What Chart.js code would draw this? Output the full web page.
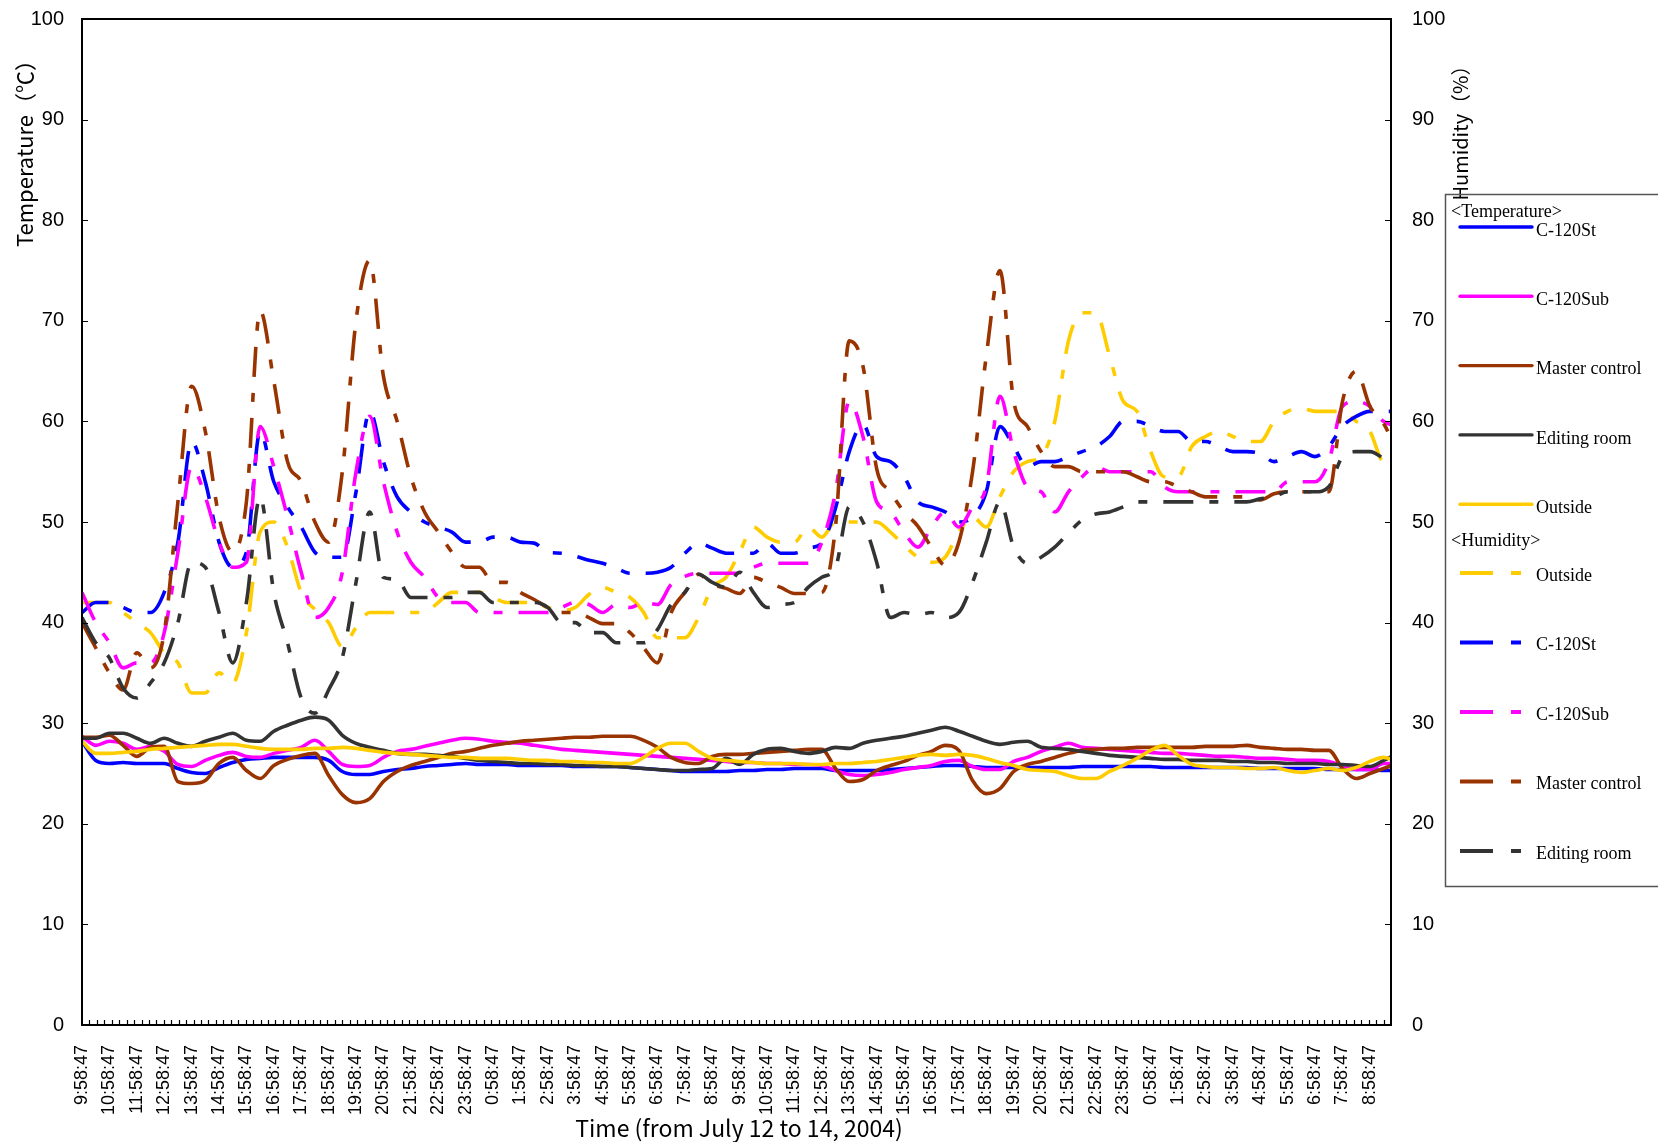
<!DOCTYPE html>
<html lang="en">
<head>
<meta charset="UTF-8">
<title>Temperature and humidity, July 12-14 2004</title>
<style>
  html, body { margin: 0; padding: 0; background: #fff; }
  #wrap { width: 1658px; height: 1142px; }
</style>
</head>
<body>
<div id="wrap"><canvas id="chart" width="1658" height="1142"></canvas></div>
<script src="https://cdn.jsdelivr.net/npm/chart.js"></script>
<script>
// readings every 30 min starting 9:58:47 on July 12 (x = hours since start)
const stepHours = 0.5;
const xMax = 47.77;       // axis ends a bit after 8:58:47 on July 14
const minorTicks = 176;   // small tick marks along the time axis

const hourLabels = [
  '9:58:47', '10:58:47', '11:58:47', '12:58:47', '13:58:47', '14:58:47', '15:58:47', '16:58:47',
  '17:58:47', '18:58:47', '19:58:47', '20:58:47', '21:58:47', '22:58:47', '23:58:47',
  '0:58:47', '1:58:47', '2:58:47', '3:58:47', '4:58:47', '5:58:47', '6:58:47', '7:58:47', '8:58:47',
  '9:58:47', '10:58:47', '11:58:47', '12:58:47', '13:58:47', '14:58:47', '15:58:47', '16:58:47',
  '17:58:47', '18:58:47', '19:58:47', '20:58:47', '21:58:47', '22:58:47', '23:58:47',
  '0:58:47', '1:58:47', '2:58:47', '3:58:47', '4:58:47', '5:58:47', '6:58:47', '7:58:47', '8:58:47'
];

// temperature (°C)
const tempStd = [
  28.2, 26.3, 26.0, 26.1, 26.0, 26.0, 26.0, 25.5, 25.1, 25.0, 25.6, 26.1, 26.4, 26.5, 26.6, 26.6,
  26.6, 26.6, 26.3, 25.2, 24.9, 24.9, 25.2, 25.4, 25.5, 25.7, 25.8, 25.9, 26.0, 25.9, 25.9, 25.9,
  25.8, 25.8, 25.8, 25.8, 25.7, 25.7, 25.7, 25.7, 25.6, 25.5, 25.4, 25.3, 25.2, 25.2, 25.2, 25.2,
  25.3, 25.3, 25.4, 25.4, 25.5, 25.5, 25.5, 25.3, 25.3, 25.3, 25.3, 25.4, 25.5, 25.6, 25.7, 25.8,
  25.8, 25.7, 25.6, 25.6, 25.6, 25.6, 25.6, 25.6, 25.6, 25.7, 25.7, 25.7, 25.7, 25.7, 25.7, 25.6,
  25.6, 25.6, 25.6, 25.6, 25.6, 25.6, 25.5, 25.5, 25.5, 25.5, 25.5, 25.4, 25.4, 25.4, 25.4, 25.3,
  25.3
];
const tempSub = [
  28.7, 27.8, 28.2, 28.0, 27.4, 27.7, 27.2, 25.9, 25.7, 26.3, 26.8, 27.1, 26.7, 26.6, 27.0, 27.3,
  27.6, 28.3, 27.2, 25.9, 25.7, 25.8, 26.6, 27.2, 27.4, 27.7, 28.0, 28.3, 28.5, 28.4, 28.2, 28.1,
  28.0, 27.8, 27.6, 27.4, 27.3, 27.2, 27.1, 27.0, 26.9, 26.8, 26.7, 26.6, 26.5, 26.4, 26.3, 26.2,
  26.1, 26.1, 26.0, 26.0, 25.9, 25.9, 25.8, 25.3, 24.9, 24.8, 24.9, 25.1, 25.4, 25.6, 25.8, 26.2,
  26.3, 25.7, 25.4, 25.4, 26.2, 26.6, 27.2, 27.6, 28.0, 27.6, 27.5, 27.4, 27.3, 27.2, 27.1, 27.0,
  27.0, 26.9, 26.8, 26.7, 26.7, 26.6, 26.5, 26.5, 26.4, 26.3, 26.3, 26.2, 25.8, 25.4, 25.4, 26.0,
  26.0
];
const tempMaster = [
  28.6, 28.6, 28.8, 27.8, 26.7, 27.6, 27.7, 24.2, 24.0, 24.3, 26.0, 26.6, 25.3, 24.5, 25.8, 26.4,
  26.8, 27.0, 24.8, 22.9, 22.1, 22.5, 24.2, 25.2, 25.8, 26.2, 26.6, 27.0, 27.2, 27.5, 27.8, 28.0,
  28.2, 28.3, 28.4, 28.5, 28.6, 28.6, 28.7, 28.7, 28.7, 28.3, 27.6, 26.6, 26.1, 26.0, 26.7, 26.9,
  26.9, 27.0, 27.1, 27.2, 27.3, 27.4, 27.4, 25.5, 24.2, 24.4, 25.3, 25.8, 26.2, 26.8, 27.2, 27.8,
  27.3, 24.3, 23.0, 23.5, 25.2, 25.9, 26.2, 26.6, 27.0, 27.3, 27.4, 27.5, 27.5, 27.6, 27.6, 27.6,
  27.6, 27.6, 27.7, 27.7, 27.7, 27.8, 27.6, 27.5, 27.4, 27.4, 27.3, 27.3, 25.5, 24.5, 25.0, 25.5,
  26.0
];
const tempEdit = [
  28.5, 28.5, 29.0, 29.0, 28.5, 28.0, 28.5, 28.0, 27.7, 28.2, 28.6, 29.0, 28.3, 28.2, 29.2, 29.8,
  30.3, 30.6, 30.3, 28.8, 28.0, 27.6, 27.3, 27.0, 26.9, 26.9, 26.8, 26.7, 26.5, 26.3, 26.2, 26.1,
  26.0, 26.0, 25.9, 25.9, 25.8, 25.8, 25.7, 25.7, 25.6, 25.5, 25.4, 25.3, 25.3, 25.4, 25.5, 26.5,
  25.9, 26.9, 27.4, 27.5, 27.2, 27.0, 27.2, 27.6, 27.5, 28.0, 28.3, 28.5, 28.7, 29.0, 29.3, 29.6,
  29.2, 28.7, 28.2, 27.9, 28.1, 28.2, 27.6, 27.5, 27.4, 27.2, 27.0, 26.8, 26.7, 26.6, 26.5, 26.4,
  26.4, 26.3, 26.3, 26.3, 26.2, 26.2, 26.1, 26.1, 26.0, 26.0, 26.0, 25.9, 25.9, 25.8, 25.7, 26.3,
  27.0
];
const tempOut = [
  28.2, 27.0, 27.0, 27.1, 27.2, 27.4, 27.5, 27.6, 27.7, 27.8, 27.9, 27.9, 27.7, 27.5, 27.4, 27.4,
  27.4, 27.5, 27.5, 27.6, 27.5, 27.3, 27.1, 27.0, 26.9, 26.8, 26.7, 26.6, 26.6, 26.5, 26.5, 26.5,
  26.4, 26.3, 26.3, 26.2, 26.2, 26.1, 26.1, 26.0, 26.0, 26.6, 27.5, 28.0, 28.0, 27.2, 26.5, 26.3,
  26.2, 26.1, 26.0, 26.0, 26.0, 25.9, 25.9, 26.0, 26.0, 26.1, 26.2, 26.4, 26.6, 26.8, 26.9, 26.8,
  26.9, 26.8, 26.5, 26.1, 25.8, 25.4, 25.3, 25.2, 24.8, 24.5, 24.5, 25.2, 25.8, 26.5, 27.3, 27.8,
  26.8, 25.9, 25.7, 25.6, 25.6, 25.5, 25.5, 25.6, 25.3, 25.1, 25.3, 25.5, 25.3, 25.6, 26.2, 26.6,
  26.2
];

// humidity (%)
const humOut = [
  42, 42, 42, 41, 40, 39, 37, 36, 33, 33, 35, 34, 39, 49, 50, 47.5,
  43, 41.3, 40, 37.6, 39.5, 41, 41, 41, 41, 41, 42, 43, 43, 43, 42.5, 42,
  42, 42, 41.5, 41.2, 41.5, 42.8, 43.5, 43, 42.5, 41, 38.5, 38.5, 38.5, 40.5, 43.5, 44.5,
  47, 49.5, 48.5, 48, 48, 49.5, 48.5, 50, 50, 50, 50, 49, 47.7, 46.5, 46, 46.5,
  49, 50.5, 49.5, 52.5, 55, 56, 56.5, 60, 68, 70.8, 70.8, 66.5, 62, 61, 57, 54.5,
  54.5, 57.5, 58.5, 59, 58.5, 58, 58, 60, 61, 61.3, 61, 61, 61, 60, 59, 56,
  57
];
const humStd = [
  41, 42, 42, 41.5, 41, 41, 43, 48, 58, 54, 48, 45.5, 47, 59, 54, 51.5,
  49.5, 47, 46.5, 46.5, 53, 61, 56, 52.5, 51, 50, 49.5, 49, 48, 48, 48.5, 48.5,
  48, 47.9, 47, 46.9, 46.6, 46.2, 45.9, 45.4, 44.9, 44.9, 45, 45.5, 46.9, 47.9, 47.4, 46.9,
  46.9, 46.9, 47.9, 46.9, 46.9, 47.4, 47.9, 51.4, 57, 59.7, 56.5, 56, 54.5, 52, 51.5, 51,
  50, 50.5, 53, 59.5, 57.5, 55.5, 56, 56, 56.5, 57, 57.5, 58.5, 60, 60, 59.5, 59,
  59, 58, 58, 57.5, 57, 57, 56.8, 56, 56.5, 57, 56.5, 57.5, 59.5, 60.5, 61, 61,
  61
];
const humSub = [
  43, 40, 38, 35.5, 36, 36, 39, 47, 55.5, 52.5, 48, 45.5, 46, 59.5, 55.5, 50.5,
  45, 40.5, 41.5, 45, 55, 60.5, 54, 49, 46, 44.5, 42.5, 42, 42, 41, 41, 41,
  41, 41, 41, 41.5, 42, 41.8, 41, 41.8, 41.5, 42, 41.8, 43.8, 44.6, 44.9, 44.9, 44.9,
  44.9, 45.5, 45.9, 45.9, 45.9, 45.9, 48, 53, 62, 58.5, 52, 51, 49, 47.5, 49.5, 51,
  49.5, 51.5, 53.5, 62.5, 57, 53.5, 53, 51, 53, 54.5, 55.5, 55, 55, 55, 55, 53.5,
  53, 53, 53, 53, 53, 53, 53, 53, 54, 54, 54, 56, 61.5, 62, 61.5, 60,
  59.5
];
const humMaster = [
  40, 37.5, 35, 33.3, 37, 35.5, 39, 52, 63.5, 59, 50.5, 47, 52, 71, 64, 56,
  54, 50, 48, 55, 70, 76, 64.5, 60, 54.5, 51, 49, 47, 45.5, 45.5, 44, 44,
  43, 42.3, 41.5, 41, 41, 40.5, 39.9, 39.9, 39, 37.5, 36, 41, 43, 44.8, 43.8, 43.4,
  42.9, 44.5, 44, 43.5, 42.9, 42.9, 43, 49.6, 68, 65.5, 55.3, 53, 51, 49.6, 47.5, 45.7,
  48, 55, 66.5, 75, 62, 59.5, 57, 55.5, 55.5, 55, 55, 55, 55, 54.5, 54, 54,
  53.5, 53, 52.5, 52.5, 52.5, 52.5, 52.2, 52.8, 53, 53, 53, 53, 62, 65, 61.5, 59.8,
  57
];
const humEdit = [
  40.5, 38, 36.5, 33.5, 32.5, 34, 36, 40, 46, 45.5, 41, 36, 42, 52.5, 43, 38,
  32.5, 31, 33.3, 36.5, 44, 51, 44.5, 44.3, 42.5, 42.5, 42.5, 42.5, 43, 43, 42, 42,
  42, 42, 41.5, 40, 40, 39, 39, 38, 38, 38, 39.3, 41.8, 43, 44.8, 44, 43.5,
  45, 43, 41.5, 41.8, 42, 43.5, 44.5, 45.5, 51.5, 50, 46, 40.5, 41, 40.8, 41, 40.5,
  41, 44, 48, 52, 47.5, 45.9, 46.5, 47.5, 48.9, 50.2, 50.8, 51, 51.5, 52, 52, 52,
  52, 52, 52, 52, 52, 52, 52.3, 52.5, 53, 53, 53, 53.5, 56.5, 57, 57, 56.3,
  55.3
];

const BLUE = '#0000ff', PINK = '#ff00ff', BROWN = '#993300', GREY = '#333333', GOLD = '#ffcc00';
const humDash = [30, 16, 9, 16];

function pts(arr) {
  return arr.map((v, i) => ({ x: i * stepHours, y: v }));
}

const tempSeries = [
  ['C-120St', tempStd, BLUE], ['C-120Sub', tempSub, PINK], ['Master control', tempMaster, BROWN],
  ['Editing room', tempEdit, GREY], ['Outside', tempOut, GOLD]
];
const humSeries = [
  ['Outside', humOut, GOLD], ['C-120St', humStd, BLUE], ['C-120Sub', humSub, PINK],
  ['Master control', humMaster, BROWN], ['Editing room', humEdit, GREY]
];

let datasets = [];
tempSeries.forEach(s => datasets.push({
  label: s[0], data: pts(s[1]), borderColor: s[2], borderWidth: 3.6,
  yAxisID: 'y', pointRadius: 0, cubicInterpolationMode: 'monotone', fill: false
}));
humSeries.forEach(s => datasets.push({
  label: s[0], data: pts(s[1]), borderColor: s[2], borderWidth: 3.6, borderDash: humDash,
  borderCapStyle: 'butt', yAxisID: 'y2', pointRadius: 0, cubicInterpolationMode: 'monotone', fill: false
}));
// later series drawn on top, like the original
datasets.forEach((d, i) => { d.order = datasets.length - i; });

function vText(ctx, text, x, y) {
  ctx.save();
  ctx.translate(x, y);
  ctx.rotate(-Math.PI / 2);
  ctx.textAlign = 'center';
  ctx.textBaseline = 'middle';
  ctx.fillText(text, 0, 0);
  ctx.restore();
}

// frame, inward ticks, axis titles and the boxed legend
const decor = {
  id: 'decor',
  afterDraw(chart) {
    const { ctx, chartArea: a, scales } = chart;
    ctx.save();
    ctx.strokeStyle = '#000';
    ctx.lineWidth = 2;
    ctx.strokeRect(a.left, a.top, a.right - a.left, a.bottom - a.top);

    ctx.lineWidth = 1.2;
    ctx.beginPath();
    for (let v = 10; v < 100; v += 10) {
      const y = Math.round(scales.y.getPixelForValue(v)) + 0.5;
      ctx.moveTo(a.left, y); ctx.lineTo(a.left + 6, y);
      ctx.moveTo(a.right, y); ctx.lineTo(a.right - 6, y);
    }
    for (let i = 1; i < minorTicks; i++) {
      const x = Math.round(scales.x.getPixelForValue(i * xMax / minorTicks)) + 0.5;
      ctx.moveTo(x, a.bottom); ctx.lineTo(x, a.bottom - 5);
    }
    ctx.stroke();

    ctx.fillStyle = '#000';
    ctx.font = '22px "Noto Sans CJK JP"';
    vText(ctx, 'Temperature（℃）', 25, 148);
    ctx.font = '20px "Noto Sans CJK JP"';
    vText(ctx, 'Humidity（%）', 1460, 128);
    ctx.textAlign = 'center';
    ctx.textBaseline = 'middle';
    ctx.font = '23px "Noto Sans CJK JP"';
    ctx.fillText('Time (from July 12 to 14, 2004)', 739, 1128);

    // legend
    ctx.strokeStyle = '#555';
    ctx.lineWidth = 1.5;
    ctx.strokeRect(1445.5, 194.5, 260, 692);
    ctx.font = '18px "Liberation Serif"';
    ctx.textAlign = 'left';
    ctx.textBaseline = 'middle';
    ctx.fillText('<Temperature>', 1451, 212);
    tempSeries.forEach((s, i) => {
      const y = 227 + i * 69.3;
      ctx.strokeStyle = s[2];
      ctx.lineWidth = 3.4;
      ctx.lineCap = 'round';
      ctx.setLineDash([]);
      ctx.beginPath(); ctx.moveTo(1460, y); ctx.lineTo(1532, y); ctx.stroke();
      ctx.fillText(s[0], 1536, y + 4);
    });
    ctx.fillText('<Humidity>', 1451, 541);
    humSeries.forEach((s, i) => {
      const y = 573 + i * 69.5;
      ctx.strokeStyle = s[2];
      ctx.lineWidth = 4;
      ctx.lineCap = 'butt';
      ctx.setLineDash([33, 18, 10, 18]);
      ctx.beginPath(); ctx.moveTo(1460, y); ctx.lineTo(1522, y); ctx.stroke();
      ctx.fillText(s[0], 1536, y + 3);
    });
    ctx.restore();
  }
};

Chart.defaults.font.family = '"Liberation Sans", Arial, sans-serif';
Chart.defaults.color = '#000';

const tickFont = { family: '"Liberation Sans", Arial, sans-serif', size: 20 };

// fixed axis sizes; drop the vertical label overhang so the plot keeps its place
function fixY(width) {
  return s => { s.width = width; s.paddingTop = 0; s.paddingBottom = 0; };
}

new Chart(document.getElementById('chart').getContext('2d'), {
  type: 'line',
  data: { datasets: datasets },
  options: {
    responsive: false,
    devicePixelRatio: 1,
    animation: false,
    layout: { padding: { top: 19, right: 207, bottom: 0, left: 0 } },
    plugins: { legend: { display: false }, tooltip: { enabled: false } },
    scales: {
      x: {
        type: 'linear', min: 0, max: xMax,
        grid: { display: false, drawTicks: false }, border: { display: false },
        afterFit(s) { s.height = 117; },
        ticks: {
          stepSize: 1, autoSkip: false, includeBounds: false,
          minRotation: 90, maxRotation: 90, padding: 20,
          font: { family: '"Liberation Sans", Arial, sans-serif', size: 18 },
          callback: v => Number.isInteger(v) ? (hourLabels[v] || '') : ''
        }
      },
      y: {
        position: 'left', min: 0, max: 100,
        grid: { display: false, drawTicks: false }, border: { display: false },
        afterFit: fixY(82),
        ticks: { stepSize: 10, padding: 18, font: tickFont }
      },
      y2: {
        position: 'right', min: 0, max: 100,
        grid: { display: false, drawTicks: false }, border: { display: false },
        afterFit: fixY(60),
        ticks: { stepSize: 10, padding: 21, font: tickFont }
      }
    }
  },
  plugins: [decor]
});
</script>
</body>
</html>
